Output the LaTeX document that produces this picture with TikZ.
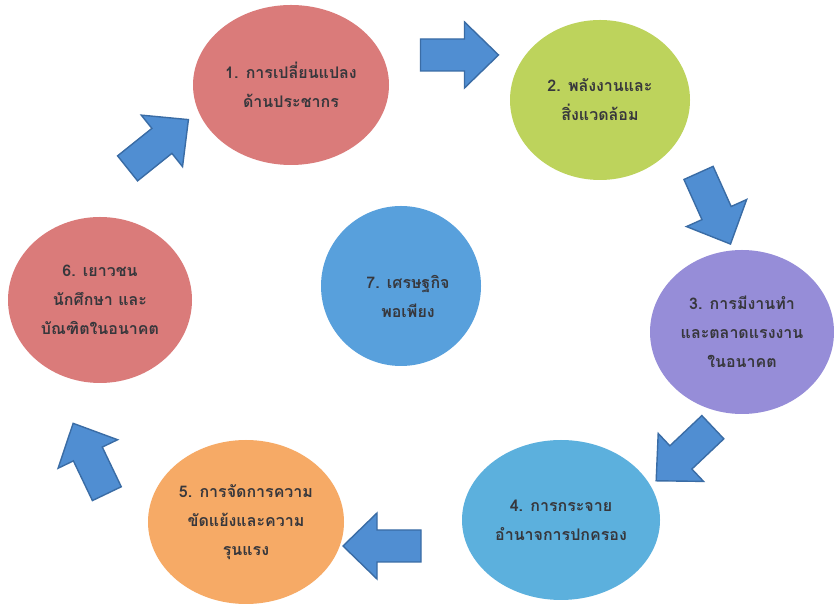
\documentclass[tikz,border=0pt]{standalone}
\usepackage{fontspec}
\newfontfamily\thaifont[Script=Thai]{Loma}
\usetikzlibrary{shapes.geometric}
\definecolor{cSalmon}{RGB}{218,123,122}
\definecolor{cGreen}{RGB}{189,211,92}
\definecolor{cPurple}{RGB}{150,141,216}
\definecolor{cBlue}{RGB}{92,176,221}
\definecolor{cOrange}{RGB}{246,170,102}
\definecolor{cMid}{RGB}{88,160,220}
\definecolor{cArrow}{RGB}{80,142,210}
\definecolor{cArrowEdge}{RGB}{58,108,165}
\definecolor{cText}{RGB}{55,55,60}
\tikzset{
  topic/.style={ellipse, inner sep=0pt, align=center, text=cText,
    font=\thaifont\bfseries\fontsize{16}{29}\selectfont},
  blockarrow/.style={fill=cArrow, draw=cArrowEdge, line width=1.4pt, line join=miter}
}
\newcommand{\bigarrow}[3]{%
  \draw[blockarrow, shift={(#1,#2)}, rotate=#3]
    (-39,-16) -- (5,-16) -- (5,-33) -- (39,0) -- (5,33) -- (5,16) -- (-39,16) -- cycle;}
\begin{document}
\begin{tikzpicture}[x=1pt,y=1pt]
\useasboundingbox (0,0) rectangle (834,612);
\fill[white] (0,0) rectangle (834,612);
\node[topic, fill=cSalmon, minimum width=196pt, minimum height=160pt] (e1) at (291,527) {1. การเปลี่ยนแปลง\\ด้านประชากร};
\node[topic, fill=cGreen, minimum width=180pt, minimum height=160pt] (e2) at (600,512) {2. พลังงานและ\\สิ่งแวดล้อม};
\node[topic, fill=cPurple, minimum width=184pt, minimum height=164pt] (e3) at (742,280) {3. การมีงานทำ\\และตลาดแรงงาน\\ในอนาคต};
\node[topic, fill=cBlue, minimum width=198pt, minimum height=160pt] (e4) at (561,92) {4. การกระจาย\\อำนาจการปกครอง};
\node[topic, fill=cOrange, minimum width=196pt, minimum height=164pt] (e5) at (246,90) {5. การจัดการความ\\ขัดแย้งและความ\\รุนแรง};
\node[topic, fill=cSalmon, minimum width=184pt, minimum height=166pt] (e6) at (100,312) {6. เยาวชน\\นักศึกษา และ\\บัณฑิตในอนาคต};
\node[topic, fill=cMid, minimum width=160pt, minimum height=160pt] (e7) at (401,326) {};
\node[topic] (t7) at (408,316) {7. เศรษฐกิจ\\พอเพียง};
\bigarrow{459.5}{557}{0}
\bigarrow{714.5}{403.5}{-65.8}
\bigarrow{684.5}{158}{-136.6}
\bigarrow{382}{66}{180}
\bigarrow{90}{153.5}{115.6}
\bigarrow{158}{468}{38.7}
\end{tikzpicture}
\end{document}
